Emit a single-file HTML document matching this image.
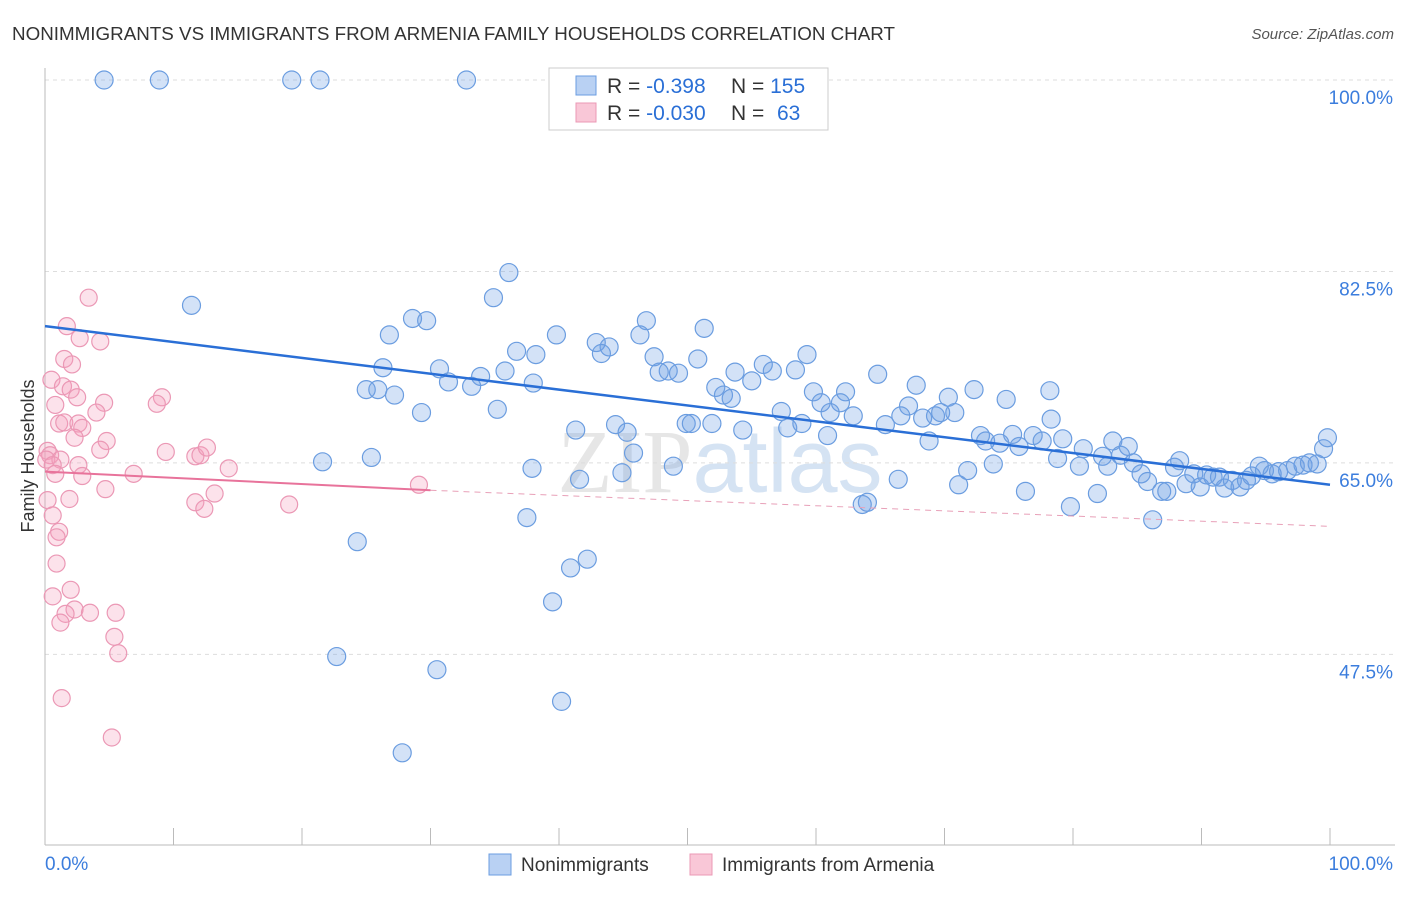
<!DOCTYPE html>
<html><head><meta charset="utf-8"><style>
body{margin:0;background:#fff;font-family:"Liberation Sans",sans-serif;}
svg text{font-family:"Liberation Sans",sans-serif;}
</style></head><body>
<svg id="chart" width="1406" height="892" xmlns="http://www.w3.org/2000/svg">
<text x="12" y="40" font-size="18" fill="#333" textLength="883" lengthAdjust="spacingAndGlyphs">NONIMMIGRANTS VS IMMIGRANTS FROM ARMENIA FAMILY HOUSEHOLDS CORRELATION CHART</text>
<text x="1394" y="39" font-size="15" fill="#555" text-anchor="end" font-style="italic">Source: ZipAtlas.com</text>
<text transform="translate(34,456) rotate(-90)" font-size="18" fill="#333" text-anchor="middle">Family Households</text>
<text x="720" y="492" font-size="90" fill="#e6e6e6" text-anchor="middle" font-family="Liberation Serif"><tspan font-family="Liberation Serif">ZIP</tspan><tspan fill="#d5e3f3" font-family="Liberation Sans">atlas</tspan></text>
<g id="grid"></g><g id="axes"></g><g id="pts"></g><g id="lines"></g>
<g>
<rect x="549" y="68" width="279" height="62" fill="#fff" stroke="#ccc"/>
<rect x="576" y="76" width="20" height="19" fill="#b9d1f3" stroke="#6b9de0"/>
<rect x="576" y="103" width="20" height="19" fill="#f9c7d7" stroke="#eb98b5"/>
<text x="607" y="93" font-size="21" fill="#333">R = <tspan fill="#2a6fd6">-0.398</tspan><tspan x="731">N = </tspan><tspan fill="#2a6fd6">155</tspan></text>
<text x="607" y="120" font-size="21" fill="#333">R = <tspan fill="#2a6fd6">-0.030</tspan><tspan x="731">N = </tspan><tspan x="777" fill="#2a6fd6">63</tspan></text>
</g>
<g>
<rect x="489" y="854" width="22" height="21" fill="#b9d1f3" stroke="#6b9de0"/>
<text x="521" y="871" font-size="19" fill="#333">Nonimmigrants</text>
<rect x="690" y="854" width="22" height="21" fill="#f9c7d7" stroke="#eb98b5"/>
<text x="722" y="871" font-size="19" fill="#333">Immigrants from Armenia</text>
</g>
</svg>
<script>
const yTicks=[100,82.5,65,47.5];
const xTickLabels=["0.0%","100.0%"];
const blueX=[4.6,8.9,19.2,21.4,32.8,11.4,36.1,34.9,28.6,29.7,26.8,39.8,46.8,51.3,46.3,36.7,38.2,42.9,43.9,43.3,47.4,48.5,47.8,49.3,50.8,26.3,30.7,33.9,35.8,31.4,33.2,38.0,25.0,25.9,27.2,29.3,35.2,53.7,55.9,56.6,55.0,58.4,59.3,52.2,52.8,53.4,59.8,62.3,64.8,67.8,70.3,72.3,74.8,78.2,57.3,60.4,61.9,61.1,62.9,67.2,69.3,70.8,69.7,68.3,65.4,66.6,44.4,49.9,50.3,51.9,41.3,45.3,54.3,57.8,58.9,60.9,78.3,72.8,73.2,74.3,75.3,75.8,76.9,77.6,79.2,80.8,83.1,84.3,78.8,80.5,82.3,82.7,83.7,84.7,85.3,85.8,86.9,87.3,87.9,88.3,88.8,89.4,89.9,90.4,90.9,91.4,91.8,92.4,93.0,93.5,93.9,94.5,94.9,95.5,96.0,96.7,97.3,97.9,98.4,99.0,99.5,99.8,86.2,81.9,79.8,76.3,73.8,71.8,71.1,68.8,66.4,64.0,63.6,48.9,45.8,44.9,41.6,37.9,37.5,42.2,40.9,39.5,25.4,21.6,24.3,22.7,30.5,40.2,27.8];
const blueY=[100,100,100,100,100,79.4,82.4,80.1,78.2,78.0,76.7,76.7,78.0,77.3,76.7,75.2,74.9,76.0,75.6,75.0,74.7,73.4,73.3,73.2,74.5,73.7,73.6,72.9,73.4,72.4,72.0,72.3,71.7,71.7,71.2,69.6,69.9,73.3,74.0,73.4,72.5,73.5,74.9,71.9,71.2,70.9,71.5,71.5,73.1,72.1,71.0,71.7,70.8,71.6,69.7,70.5,70.5,69.6,69.3,70.2,69.3,69.6,69.6,69.1,68.5,69.3,68.5,68.6,68.6,68.6,68.0,67.8,68.0,68.2,68.6,67.5,69.0,67.5,67.0,66.8,67.6,66.5,67.5,67.0,67.2,66.3,67.0,66.5,65.4,64.7,65.6,64.7,65.7,65.0,64.0,63.3,62.4,62.4,64.6,65.2,63.1,64.0,62.8,63.9,63.7,63.7,62.7,63.4,62.8,63.4,63.8,64.7,64.3,64.0,64.2,64.3,64.7,64.8,65.0,64.9,66.3,67.3,59.8,62.2,61.0,62.4,64.9,64.3,63.0,67.0,63.5,61.4,61.2,64.7,65.9,64.1,63.5,64.5,60.0,56.2,55.4,52.3,65.5,65.1,57.8,47.3,46.1,43.2,38.5];
const pinkX=[3.4,1.7,4.3,2.7,1.5,2.1,0.5,1.4,2.0,2.5,4.6,0.8,4.0,9.1,8.7,1.1,1.5,2.6,2.9,2.3,4.8,4.3,0.2,0.4,0.1,1.2,0.6,2.6,0.8,2.9,9.4,11.7,12.1,12.6,14.3,6.9,4.7,13.2,11.7,12.4,19.0,29.1,0.2,1.9,0.6,1.1,0.9,0.9,2.0,0.6,2.3,1.6,3.5,5.5,1.2,5.4,5.7,1.3,5.2];
const pinkY=[80.1,77.5,76.1,76.4,74.5,74.0,72.6,72.0,71.7,71.0,70.5,70.3,69.6,71.0,70.4,68.6,68.7,68.6,68.2,67.3,67.0,66.2,66.1,65.7,65.3,65.3,64.8,64.8,64.0,63.8,66.0,65.6,65.7,66.4,64.5,64.0,62.6,62.2,61.4,60.8,61.2,63.0,61.6,61.7,60.2,58.7,58.2,55.8,53.4,52.8,51.6,51.2,51.3,51.3,50.4,49.1,47.6,43.5,39.9];
const blueTrend=[77.5,63.0];
const pinkTrend=[64.2,62.5,59.2];
const NS="http://www.w3.org/2000/svg";
const sx=v=>45+v*12.85, sy=v=>80+(100-v)*10.94;
function mk(tag,attrs,parent){const e=document.createElementNS(NS,tag);for(const k in attrs)e.setAttribute(k,attrs[k]);document.getElementById(parent).appendChild(e);return e;}
yTicks.forEach((t,i)=>{
  const l=mk('line',{x1:45,x2:1395,y1:sy(t),y2:sy(t),stroke:'#ddd','stroke-dasharray':'4,4'},'grid');
  
  
  const tx=mk('text',{x:1393,y:sy(t)+24,'font-size':19,fill:'#3b7ddd','text-anchor':'end'},'grid');
  tx.textContent=t.toFixed(1)+'%';
  
  
});
const ax=mk('line',{x1:45,x2:45,y1:68,y2:845,stroke:'#bbb'},'axes');


const bx=mk('line',{x1:45,x2:1395,y1:845,y2:845,stroke:'#bbb'},'axes');


for(let i=0;i<=10;i++){const t=mk('line',{x1:sx(i*10),x2:sx(i*10),y1:828,y2:845,stroke:'#bbb'},'axes');

}
const l0=mk('text',{x:45,y:870,'font-size':19,fill:'#3b7ddd'},'axes');l0.textContent=xTickLabels[0];


const l1=mk('text',{x:1393,y:870,'font-size':19,fill:'#3b7ddd','text-anchor':'end'},'axes');l1.textContent=xTickLabels[1];


pinkX.forEach((x,i)=>{const c=mk('circle',{cx:sx(x),cy:sy(pinkY[i]),r:8.5,fill:'rgba(244,160,190,0.3)',stroke:'#eb98b5','stroke-width':1.2},'pts');

});
blueX.forEach((x,i)=>{const c=mk('circle',{cx:sx(x),cy:sy(blueY[i]),r:9,fill:'rgba(110,160,230,0.3)',stroke:'#6b9de0','stroke-width':1.2},'pts');

});
const bt=mk('line',{x1:sx(0),y1:sy(blueTrend[0]),x2:sx(100),y2:sy(blueTrend[1]),stroke:'#2a6fd6','stroke-width':2.5},'lines');


const pt=mk('line',{x1:sx(0),y1:sy(pinkTrend[0]),x2:sx(30),y2:sy(pinkTrend[1]),stroke:'#e8739b','stroke-width':2},'lines');


const pd=mk('line',{x1:sx(30),y1:sy(pinkTrend[1]),x2:sx(100),y2:sy(pinkTrend[2]),stroke:'#e8a0b8','stroke-width':1,'stroke-dasharray':'6,5'},'lines');


</script>
</body></html>
